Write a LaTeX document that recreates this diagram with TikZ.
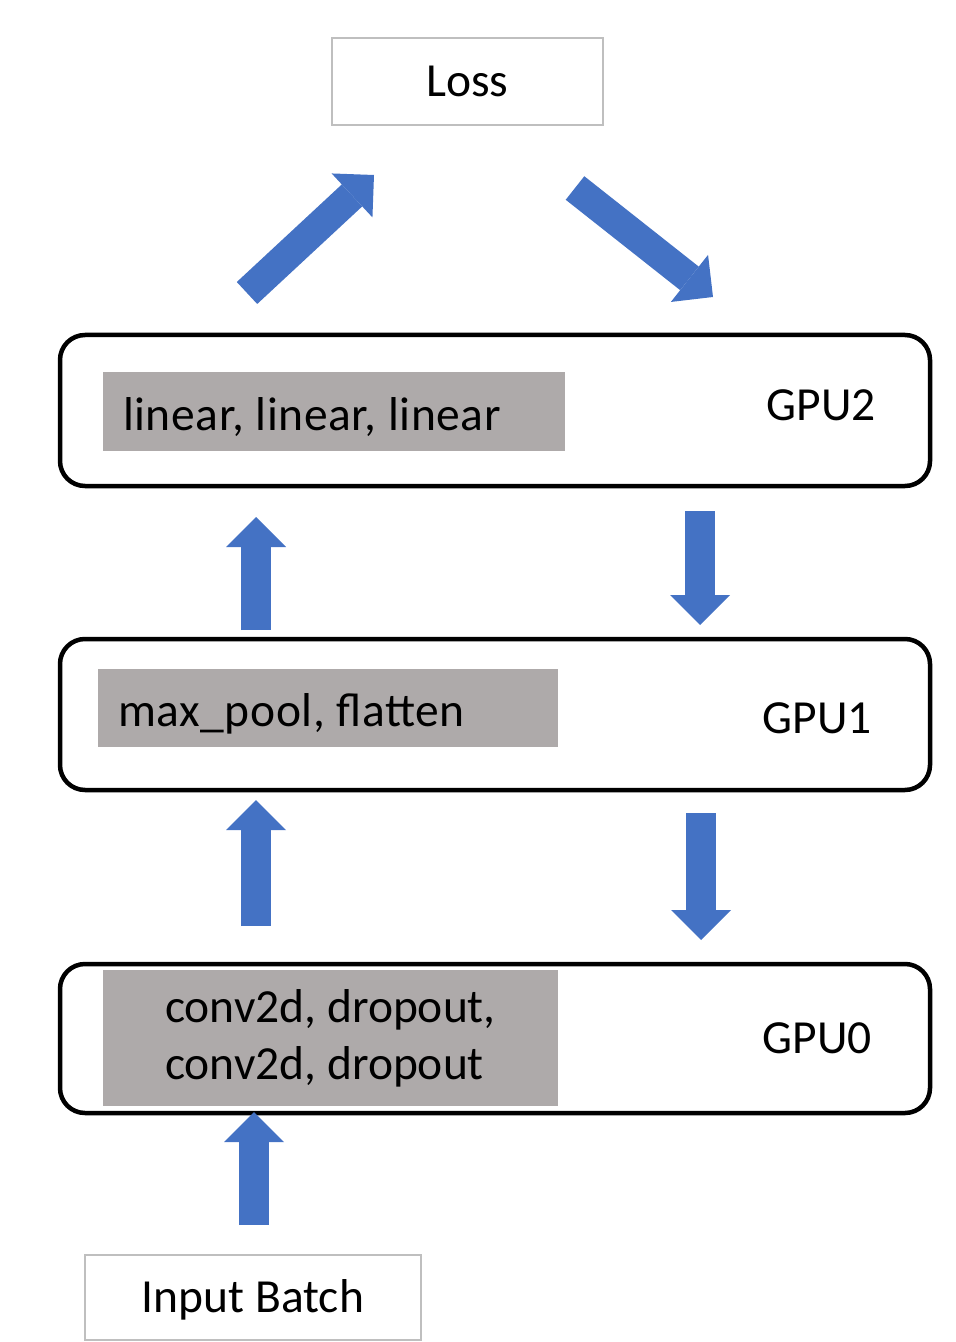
\documentclass[tikz,border=0pt]{standalone}
\usepackage{fontspec}
\setmainfont{Carlito}
\usetikzlibrary{arrows.meta}
\definecolor{arrowblue}{HTML}{4472C4}
\definecolor{opgray}{HTML}{AEAAAA}
\definecolor{boxline}{HTML}{BFBFBF}
\begin{document}
\frenchspacing
\begin{tikzpicture}[x=0.5pt,y=-0.5pt,
  every node/.style={font=\fontsize{23.75}{28.5}\selectfont\frenchspacing, text=black},
  plainbox/.style={draw=boxline, line width=1pt, fill=white, inner sep=0pt},
  gpubox/.style={draw=black, line width=2.25pt, rounded corners=12.5pt, inner sep=0pt,
                 minimum width=435pt, minimum height=75.5pt},
  opbox/.style={fill=opgray, draw=none, inner ysep=0pt},
  spacedtext/.style={font=\fontsize{23.75}{28.5}\selectfont\frenchspacing\addfontfeatures{LetterSpace=1.3}},
  blockarrow/.style={draw=arrowblue, line width=15pt, line cap=butt,
     -{Triangle[width=30pt 0 0, length=15pt 0 0, line width=0pt, fill=arrowblue]}}
]
\useasboundingbox (0,0) rectangle (955,1342);

% plain boxes
\node[plainbox, minimum width=135.5pt, minimum height=43.5pt] (loss) at (467.5,81.5) {Loss};
\node[plainbox, minimum width=168pt, minimum height=42.5pt, text height=19pt, text depth=4pt] (input) at (253,1297.5) {Input Batch};

% GPU boxes
\node[gpubox] (gpu2) at (495,410.5) {};
\node[gpubox] (gpu1) at (495,714.5) {};
\node[gpubox, minimum height=74.5pt] (gpu0) at (495,1038.5) {};

% operation boxes
\node[opbox, spacedtext, text width=211pt, inner xsep=10pt, align=left, minimum height=39.5pt, text height=22.5pt, text depth=4pt] (ops2) at (334,411.5) {\spaceskip=0pt\xspaceskip=0pt\relax linear, linear, linear};
\node[opbox, spacedtext, text width=210pt, inner xsep=10pt, align=left, minimum height=39pt, text height=22.5pt, text depth=4pt] (ops1) at (328,708) {\spaceskip=0pt\xspaceskip=0pt\relax max\_pool, flatten};
\node[opbox, align=left, inner xsep=0pt, minimum width=227.5pt, minimum height=68pt] (ops0) at (330.5,1038) {conv2d, dropout,\\conv2d, dropout};

% GPU labels
\node (lab2) at (821,405) {GPU2};
\node (lab1) at (817,718) {GPU1};
\node (lab0) at (817,1038) {GPU0};

% arrow end points
\coordinate (a1s) at (254,1225); \coordinate (a1e) at (254,1112);
\coordinate (a2s) at (256,926);  \coordinate (a2e) at (256,800);
\coordinate (a3s) at (256,630);  \coordinate (a3e) at (256,517);
\coordinate (a4s) at (700,511);  \coordinate (a4e) at (700,625);
\coordinate (a5s) at (701,813);  \coordinate (a5e) at (701,940);
\coordinate (d1s) at (247,293);  \coordinate (d1e) at (374,175);
\coordinate (d2s) at (575,188);  \coordinate (d2e) at (713,297);

\draw[blockarrow] (a1s) -- (a1e);
\draw[blockarrow] (a2s) -- (a2e);
\draw[blockarrow] (a3s) -- (a3e);
\draw[blockarrow] (a4s) -- (a4e);
\draw[blockarrow] (a5s) -- (a5e);
\draw[blockarrow] (d1s) -- (d1e);
\draw[blockarrow] (d2s) -- (d2e);
\end{tikzpicture}
\end{document}
